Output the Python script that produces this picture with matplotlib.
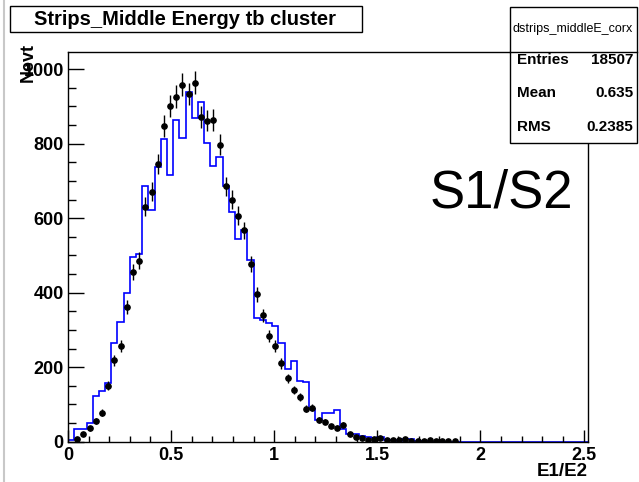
import numpy as np
import matplotlib
matplotlib.use("Agg")
import matplotlib.pyplot as plt
from matplotlib.lines import Line2D
from matplotlib.patches import Rectangle

plt.rcParams['font.family'] = ['Liberation Sans', 'DejaVu Sans']

# binning: 84 bins of 0.03 from 0 to 2.52
BIN_WIDTH = 0.03
N_BINS = 84

# MC histogram (blue line)
mc_counts = [5, 33, 33, 51, 123, 137, 157, 266, 322, 398,
             497, 504, 687, 622, 736, 812, 716, 864, 816, 938,
             868, 911, 801, 740, 765, 687, 616, 545, 567, 488,
             331, 326, 318, 310, 264, 194, 217, 163, 160, 88,
             58, 76, 76, 85, 33, 22, 21, 15, 12, 10,
             12, 4, 4, 3, 6, 6, 3, 1] + [0] * 26

# data points (black, with sqrt(N) errors)
data_counts = [0, 6, 22, 36, 56, 78, 150, 219, 258, 361,
               456, 486, 631, 671, 746, 848, 901, 926, 958, 933,
               964, 871, 862, 864, 797, 685, 650, 607, 567, 476,
               396, 339, 284, 256, 211, 170, 139, 119, 88, 91,
               58, 54, 42, 38, 45, 20, 13, 11, 5, 6,
               9, 4, 5, 4, 6, 3, 3, 3, 4, 3,
               3, 2, 2] + [0] * 21

title = "Strips_Middle Energy tb cluster"
stats_name = "dstrips_middleE_corx"
stats_rows = [("Entries", "18507"), ("Mean", "0.635"), ("RMS", "0.2385")]

edges = np.arange(N_BINS + 1) * BIN_WIDTH
centers = edges[:-1] + BIN_WIDTH / 2
mc = np.array(mc_counts, dtype=float)
dat = np.array(data_counts, dtype=float)

fig = plt.figure(figsize=(6.39, 4.82), dpi=100)
W, H = 639.0, 482.0
ax = fig.add_axes([68 / W, 1 - 441.7 / H, (587.7 - 68) / W, (441.7 - 52) / H])

ax.stairs(mc, edges, color='#0000ff', linewidth=1.2)
m = dat > 0
ax.errorbar(centers[m], dat[m], yerr=np.sqrt(dat[m]), fmt='o', color='black',
            markersize=3.8, elinewidth=1.0, capsize=0)

ax.set_xlim(0, 2.52)
ax.set_ylim(0, 1046)
ax.set_xticks([0, 0.5, 1, 1.5, 2, 2.5])
ax.set_xticklabels(['0', '0.5', '1', '1.5', '2', '2.5'])
ax.set_xticks(np.arange(0, 2.51, 0.1), minor=True)
ax.set_yticks(np.arange(0, 1001, 200))
ax.set_yticks(np.arange(0, 1001, 50), minor=True)

ax.tick_params(which='both', direction='in', top=False, right=False, width=1, color='black')
ax.tick_params(axis='x', which='major', length=8.4, pad=4)
ax.tick_params(axis='x', which='minor', length=4.2)
ax.tick_params(axis='y', which='major', length=11.3, pad=3)
ax.tick_params(axis='y', which='minor', length=5.7)
for lab in ax.get_xticklabels() + ax.get_yticklabels():
    lab.set_fontsize(13)
    lab.set_fontweight('bold')
for s in ax.spines.values():
    s.set_linewidth(1)

# axis titles
fig.text(588 / W, 1 - 471 / H, "E1/E2", ha='right', va='center', fontsize=13.5, fontweight='bold')
fig.text(28 / W, 1 - 43 / H, "Nevt", ha='center', va='top', rotation=90, fontsize=13, fontweight='bold')

# big label
fig.text(430 / W, 1 - 193 / H, "S1/S2", ha='left', va='center', fontsize=38)

# title box
fig.add_artist(Rectangle((10 / W, 1 - 32 / H), 352 / W, 26 / H, transform=fig.transFigure,
                         facecolor='white', edgecolor='black', linewidth=1))
fig.text(185 / W, 1 - 19.5 / H, title, ha='center', va='center', fontsize=14.5, fontweight='bold')

# stats box
fig.add_artist(Rectangle((510 / W, 1 - 142.7 / H), 127 / W, 136 / H, transform=fig.transFigure,
                         facecolor='white', edgecolor='black', linewidth=1))
fig.add_artist(Line2D([510 / W, 637 / W], [1 - 51.7 / H, 1 - 51.7 / H], color='black', linewidth=1))
fig.text(573 / W, 1 - 29 / H, stats_name, ha='center', va='center', fontsize=9)
for i, (k, v) in enumerate(stats_rows):
    y = 1 - (60 + 33.3 * i) / H
    fig.text(517 / W, y, k, ha='left', va='center', fontsize=11, fontweight='bold')
    fig.text(633 / W, y, v, ha='right', va='center', fontsize=11, fontweight='bold')

# canvas border on the left
fig.add_artist(Line2D([3.5 / W, 3.5 / W], [0, 1], color='#c8c8c8', linewidth=1.5))

fig.savefig("out.png", dpi=100)
